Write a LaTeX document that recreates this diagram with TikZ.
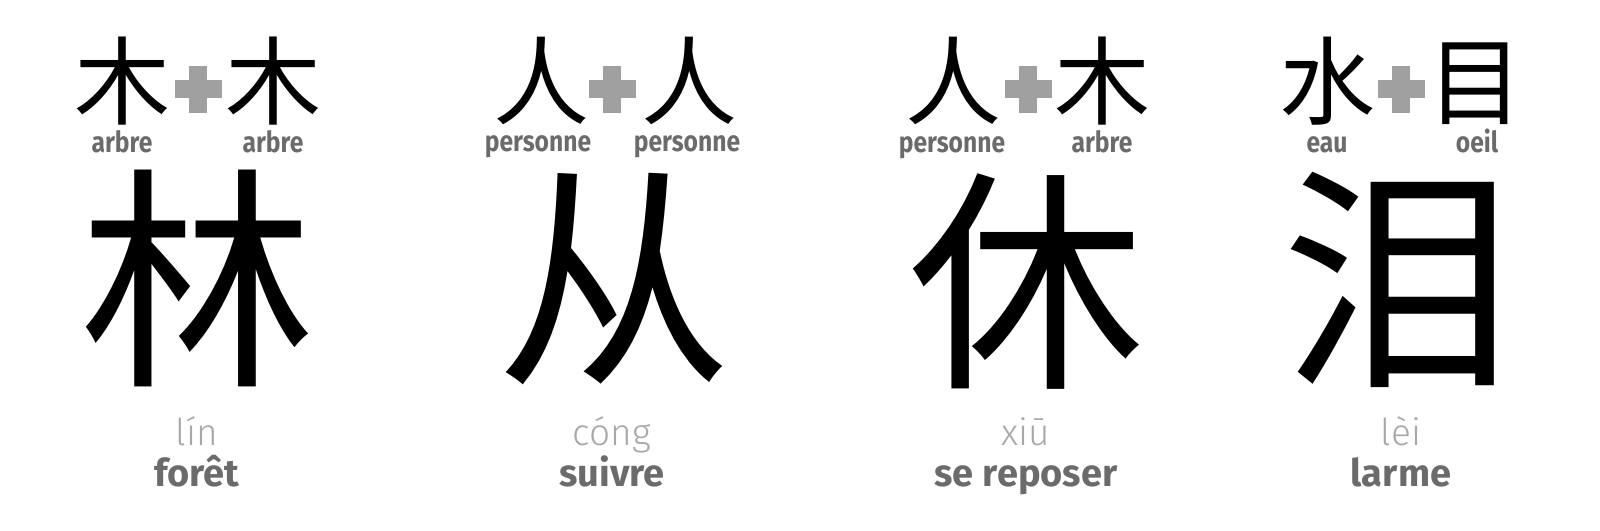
\documentclass[tikz,border=0pt]{standalone}
\usepackage{fontspec}
\setmainfont{Fira Sans}
\newfontfamily\cjk{Noto Sans CJK SC}
\newfontfamily\lbl[FakeStretch=0.85]{Fira Sans}
\newfontfamily\pyf{Fira Sans Light}
\definecolor{labelgray}{HTML}{6B6B6B}
\definecolor{pygray}{HTML}{A8A8A8}
\definecolor{plusgray}{HTML}{A0A0A0}
\begin{document}
\begin{tikzpicture}[x=1pt,y=-1pt,
  smallchar/.style={font=\cjk\fontsize{96}{96}\selectfont, anchor=base, inner sep=0pt},
  bigchar/.style={font=\cjk\fontsize{236}{236}\selectfont, anchor=base, inner sep=0pt},
  comp/.style={font=\lbl\bfseries\fontsize{29}{29}\selectfont, text=labelgray, anchor=base, inner sep=0pt},
  pinyin/.style={font=\pyf\fontsize{37}{37}\selectfont, text=pygray, anchor=base, inner sep=0pt},
  meaning/.style={font=\bfseries\fontsize{38}{38}\selectfont, text=labelgray, anchor=base, inner sep=0pt},
  plusbar/.style={fill=plusgray, draw=none}]
\useasboundingbox (0,0) rectangle (1600,530);
% plus signs
\foreach \px in {198,612,1028,1401}{
  \fill[plusbar] (\px-23.5,80) rectangle (\px+23.5,98);
  \fill[plusbar] (\px-9,65.5) rectangle (\px+9,112.5);
}
% column 1
\node[smallchar] (a1) at (122,117) {木};
\node[smallchar] (a2) at (273,117) {木};
\node[comp] (la1) at (122,152) {arbre};
\node[comp] (la2) at (273,152) {arbre};
\node[bigchar] (A) at (197,368) {林};
\node[pinyin] (pa) at (197,445) {lín};
\node[meaning] (ma) at (197,486) {forêt};
% column 2
\node[smallchar] (b1) at (541,117) {人};
\node[smallchar] (b2) at (689,117) {人};
\node[comp] (lb1) at (538,151) {personne};
\node[comp] (lb2) at (687,151) {personne};
\node[bigchar] (B) at (614,366) {从};
\node[pinyin] (pb) at (612,445) {cóng};
\node[meaning] (mb) at (612,486) {suivre};
% column 3
\node[smallchar] (c1) at (953,117) {人};
\node[smallchar] (c2) at (1102,117) {木};
\node[comp] (lc1) at (952,152) {personne};
\node[comp] (lc2) at (1102,152) {arbre};
\node[bigchar] (C) at (1026,370) {休};
\node[pinyin] (pc) at (1026,445) {xiū};
\node[meaning] (mc) at (1026,486) {se reposer};
% column 4
\node[smallchar] (d1) at (1327,117) {水};
\node[smallchar] (d2) at (1475,117) {目};
\node[comp] (ld1) at (1327,152) {eau};
\node[comp] (ld2) at (1477,152) {oeil};
\node[bigchar] (D) at (1398,368) {泪};
\node[pinyin] (pd) at (1401,445) {lèi};
\node[meaning] (md) at (1401,486) {larme};
\end{tikzpicture}
\end{document}
